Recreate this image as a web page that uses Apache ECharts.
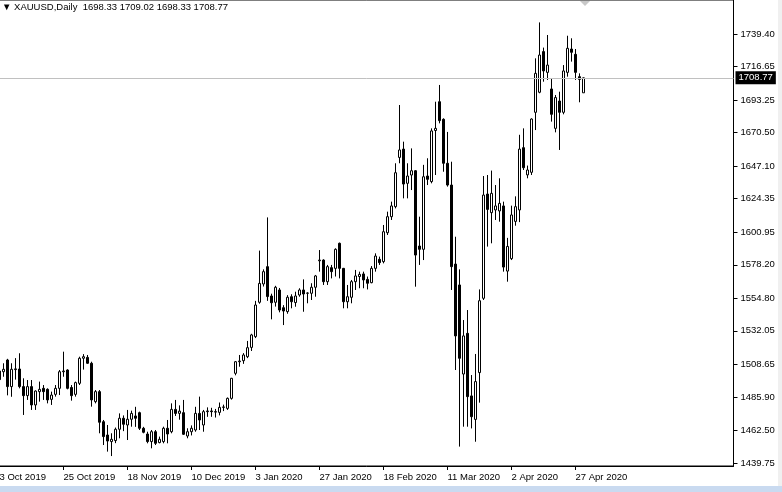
<!DOCTYPE html>
<html>
<head>
<meta charset="utf-8">
<script src="https://cdn.jsdelivr.net/npm/echarts@6/dist/echarts.min.js"></script>
<style>
html,body{margin:0;padding:0;background:#fff;}
#chart{width:782px;height:492px;}
</style>
</head>
<body>
<div id="chart"></div>
<script>
// ---- data ----
const symbolName = 'XAUUSD,Daily';
const dates = [
'2019-10-03','2019-10-04','2019-10-07','2019-10-08','2019-10-09','2019-10-10','2019-10-11','2019-10-14','2019-10-15','2019-10-16',
'2019-10-17','2019-10-18','2019-10-21','2019-10-22','2019-10-23','2019-10-24','2019-10-25','2019-10-28','2019-10-29','2019-10-30',
'2019-10-31','2019-11-01','2019-11-04','2019-11-05','2019-11-06','2019-11-07','2019-11-08','2019-11-11','2019-11-12','2019-11-13',
'2019-11-14','2019-11-15','2019-11-18','2019-11-19','2019-11-20','2019-11-21','2019-11-22','2019-11-25','2019-11-26','2019-11-27',
'2019-11-28','2019-11-29','2019-12-02','2019-12-03','2019-12-04','2019-12-05','2019-12-06','2019-12-09','2019-12-10','2019-12-11',
'2019-12-12','2019-12-13','2019-12-16','2019-12-17','2019-12-18','2019-12-19','2019-12-20','2019-12-23','2019-12-24','2019-12-26',
'2019-12-27','2019-12-30','2019-12-31','2020-01-02','2020-01-03','2020-01-06','2020-01-07','2020-01-08','2020-01-09','2020-01-10',
'2020-01-13','2020-01-14','2020-01-15','2020-01-16','2020-01-17','2020-01-20','2020-01-21','2020-01-22','2020-01-23','2020-01-24',
'2020-01-27','2020-01-28','2020-01-29','2020-01-30','2020-01-31','2020-02-03','2020-02-04','2020-02-05','2020-02-06','2020-02-07',
'2020-02-10','2020-02-11','2020-02-12','2020-02-13','2020-02-14','2020-02-17','2020-02-18','2020-02-19','2020-02-20','2020-02-21',
'2020-02-24','2020-02-25','2020-02-26','2020-02-27','2020-02-28','2020-03-02','2020-03-03','2020-03-04','2020-03-05','2020-03-06',
'2020-03-09','2020-03-10','2020-03-11','2020-03-12','2020-03-13','2020-03-16','2020-03-17','2020-03-18','2020-03-19','2020-03-20',
'2020-03-23','2020-03-24','2020-03-25','2020-03-26','2020-03-27','2020-03-30','2020-03-31','2020-04-01','2020-04-02','2020-04-03',
'2020-04-06','2020-04-07','2020-04-08','2020-04-09','2020-04-13','2020-04-14','2020-04-15','2020-04-16','2020-04-17','2020-04-20',
'2020-04-21','2020-04-22','2020-04-23','2020-04-24','2020-04-27','2020-04-28','2020-04-29'
];
const openP = [
1504.0,1503.5,1511.7,1493.1,1505.0,1505.4,1493.1,1486.8,1493.1,1480.3,
1489.6,1491.9,1491.2,1484.2,1487.7,1491.9,1503.5,1504.7,1492.5,1487.7,
1495.4,1512.9,1513.5,1509.4,1482.6,1489.6,1468.6,1459.3,1454.7,1455.4,
1463.3,1471.0,1466.3,1470.3,1472.6,1474.9,1464.0,1460.0,1454.7,1461.6,
1454.0,1454.7,1464.0,1461.6,1477.2,1474.4,1474.9,1458.6,1461.6,1462.8,
1474.4,1466.3,1475.6,1476.1,1475.6,1475.1,1478.6,1477.9,1484.9,1502.4,
1510.5,1511.2,1514.0,1520.5,1528.0,1552.0,1564.8,1576.9,1556.4,1552.0,
1560.6,1548.2,1545.5,1555.9,1551.8,1557.1,1560.6,1558.3,1558.3,1562.5,
1581.0,1581.5,1566.4,1576.2,1575.7,1593.2,1575.7,1552.4,1555.5,1566.4,
1570.0,1571.8,1568.0,1565.7,1575.7,1582.0,1580.4,1600.6,1611.8,1618.8,
1653.2,1659.0,1635.1,1640.9,1643.9,1591.3,1589.0,1640.2,1636.3,1672.0,
1692.1,1679.8,1649.1,1633.9,1578.7,1564.1,1501.9,1530.3,1486.6,1470.2,
1502.9,1554.8,1627.6,1614.6,1616.5,1615.8,1619.3,1573.8,1582.5,1608.5,
1616.5,1660.0,1641.0,1642.8,1684.7,1698.7,1727.1,1712.6,1701.0,1673.5,
1692.6,1684.7,1712.6,1728.9,1725.2,1709.6,1698.33
];
const highP = [
1513.0,1509.4,1512.5,1509.4,1513.0,1516.4,1498.9,1497.7,1497.7,1490.5,
1496.6,1494.2,1491.9,1489.6,1494.2,1504.7,1517.5,1505.2,1494.2,1496.6,
1514.0,1515.8,1515.2,1510.5,1490.7,1490.7,1469.8,1466.3,1460.5,1464.5,
1474.4,1473.0,1476.8,1476.3,1479.0,1475.6,1465.0,1461.6,1462.8,1462.8,
1458.2,1465.1,1469.8,1481.4,1483.8,1480.0,1483.8,1464.0,1466.0,1479.0,
1486.1,1476.8,1478.6,1478.3,1477.5,1482.0,1480.5,1485.5,1499.2,1511.0,
1515.2,1516.5,1525.0,1530.0,1553.0,1588.1,1575.0,1611.3,1558.0,1563.5,
1562.0,1550.0,1557.0,1557.6,1559.4,1561.8,1568.0,1559.0,1565.3,1571.1,
1588.5,1582.0,1578.1,1578.1,1589.7,1593.7,1576.0,1564.1,1567.6,1574.6,
1573.4,1573.4,1570.0,1577.3,1586.2,1583.9,1606.0,1615.3,1622.3,1649.1,
1689.8,1664.2,1649.1,1659.5,1644.4,1611.8,1648.0,1652.6,1673.5,1692.1,
1703.8,1680.5,1671.0,1650.2,1597.8,1575.0,1539.6,1546.6,1501.2,1515.9,
1561.0,1640.2,1640.9,1644.0,1633.9,1638.6,1622.3,1597.0,1619.5,1626.0,
1669.0,1673.5,1647.5,1680.5,1722.4,1747.5,1729.9,1738.7,1708.4,1696.8,
1699.1,1717.7,1738.2,1736.4,1728.9,1711.9,1709.02
];
const lowP = [
1495.0,1500.0,1487.0,1486.0,1498.0,1491.9,1473.3,1483.8,1476.8,1476.8,
1482.6,1483.8,1481.4,1480.3,1486.1,1487.2,1500.0,1491.2,1483.3,1486.1,
1494.2,1505.0,1509.0,1479.1,1481.4,1460.5,1452.3,1447.7,1444.6,1453.6,
1457.0,1462.0,1455.8,1465.1,1465.0,1462.8,1460.5,1453.5,1450.0,1452.3,
1453.5,1453.5,1453.5,1460.5,1472.6,1470.0,1459.3,1457.0,1459.0,1461.6,
1462.8,1461.6,1472.0,1472.0,1471.5,1473.0,1476.0,1476.8,1484.0,1501.0,
1507.0,1509.0,1513.0,1518.0,1527.0,1551.0,1563.0,1553.0,1540.1,1549.0,
1545.0,1536.1,1544.0,1547.8,1548.9,1555.9,1545.4,1551.3,1553.6,1555.9,
1573.4,1564.1,1564.1,1568.7,1570.0,1568.7,1547.8,1547.8,1551.3,1560.6,
1561.8,1561.8,1561.0,1565.3,1573.4,1578.1,1579.2,1599.0,1609.5,1617.6,
1649.1,1624.6,1624.6,1630.4,1562.9,1578.1,1581.5,1633.9,1635.1,1640.9,
1677.0,1643.2,1632.8,1560.6,1504.7,1451.2,1465.1,1465.1,1463.9,1454.6,
1481.9,1553.6,1590.9,1593.2,1609.5,1608.3,1573.4,1566.4,1581.5,1605.5,
1608.0,1644.4,1638.6,1640.9,1672.3,1698.0,1706.1,1707.3,1678.2,1670.7,
1658.4,1683.3,1709.6,1720.1,1707.3,1691.7,1698.33
];
const closeP = [
1498.0,1505.2,1493.1,1505.2,1505.5,1493.1,1486.8,1493.1,1480.3,1490.0,
1491.2,1489.6,1483.8,1487.2,1491.9,1503.5,1504.0,1491.9,1486.8,1495.9,
1512.9,1514.0,1509.4,1483.8,1489.6,1468.2,1458.2,1455.1,1456.3,1463.3,
1471.0,1466.8,1470.3,1474.4,1471.0,1464.0,1461.2,1454.7,1461.6,1453.5,
1456.3,1464.0,1460.0,1477.2,1474.4,1476.0,1459.8,1461.6,1464.0,1474.4,
1469.8,1475.6,1476.1,1475.6,1475.3,1478.6,1478.9,1484.9,1498.9,1510.5,
1511.0,1515.2,1520.3,1529.2,1550.1,1565.2,1573.4,1556.0,1551.7,1562.5,
1546.6,1545.9,1555.5,1552.4,1556.4,1560.6,1557.8,1558.5,1562.5,1570.4,
1581.5,1566.4,1576.9,1573.4,1589.0,1575.7,1552.4,1555.9,1566.4,1570.4,
1571.5,1567.6,1565.3,1575.7,1584.3,1579.7,1601.3,1611.8,1619.3,1642.5,
1658.4,1634.6,1640.2,1643.9,1585.0,1589.0,1639.7,1637.9,1671.7,1673.5,
1678.9,1649.1,1633.9,1576.9,1528.5,1512.9,1528.5,1486.1,1472.1,1496.6,
1553.1,1626.9,1616.9,1628.1,1619.3,1621.1,1576.6,1591.0,1613.0,1618.8,
1659.0,1646.0,1644.4,1680.0,1711.9,1724.7,1713.6,1717.7,1683.3,1695.0,
1684.7,1713.6,1729.4,1726.6,1712.6,1707.7,1708.77
];
const priceTicks = [1739.40,1716.65,1693.25,1670.50,1647.10,1624.35,1600.95,1578.20,1554.80,1532.05,1508.65,1485.90,1462.50,1439.75];
const lastPrice = 1708.77;
const labelEvery = 16;

// ---- build ----
const MONTHS = ['Jan','Feb','Mar','Apr','May','Jun','Jul','Aug','Sep','Oct','Nov','Dec'];
function fmtDate(s){
  if(!s || s.indexOf('-')<0) return '';
  const p = s.split('-');
  return (+p[2]) + ' ' + MONTHS[+p[1]-1] + ' ' + p[0];
}
const totalSlots = 184; // chart shift: empty space right of the last bar
const cats = dates.slice();
for (let k = 0; cats.length < totalSlots; k++) cats.push('pad' + k);
const ohlc = dates.map((d,i)=>[openP[i], closeP[i], lowP[i], highP[i]]);
const n = dates.length;
const last = n - 1;
const titleText = '\u25BC ' + symbolName + '  ' + [openP[last], highP[last], lowP[last], closeP[last]].map(v=>v.toFixed(2)).join(' ');
const showIdx = (i)=> i < n && i % labelEvery === 0;
const FONT = 'Liberation Sans, Arial, sans-serif';

const chart = echarts.init(document.getElementById('chart'), null, {renderer:'canvas', width:782, height:492});
chart.setOption({
  animation:false,
  backgroundColor:'#ffffff',
  title:{text:titleText, left:2, top:2, padding:0,
    textStyle:{fontSize:9.5, fontWeight:'normal', color:'#000', fontFamily:FONT}},
  grid:{left:-2.5, width:736, top:0, bottom:26, show:true, borderColor:'#000', borderWidth:1,
        backgroundColor:'transparent', containLabel:false, outerBoundsMode:'none'},
  xAxis:{type:'category', data:cats, boundaryGap:true,
    axisLine:{show:true, lineStyle:{color:'#000', width:1}},
    axisTick:{show:true, alignWithLabel:true, interval:(i)=>showIdx(i), length:4, lineStyle:{color:'#000'}},
    axisLabel:{show:true, interval:(i)=>showIdx(i), formatter:(v)=>fmtDate(v), align:'left',
      margin:6, color:'#000', fontSize:9.5, fontFamily:FONT, padding:0},
    splitLine:{show:false}},
  yAxis:{type:'value', position:'right', min:1437.65, max:1763.15, scale:true,
    axisLine:{show:true, lineStyle:{color:'#000', width:1}},
    axisTick:{show:true, length:4, customValues:priceTicks, lineStyle:{color:'#000'}},
    axisLabel:{show:true, customValues:priceTicks, formatter:(v)=>v.toFixed(2), margin:7,
      color:'#000', fontSize:9.5, fontFamily:FONT},
    splitLine:{show:false}},
  series:[{
    type:'candlestick',
    data:ohlc,
    barWidth:2,
    itemStyle:{color:'#ffffff', color0:'#000000', borderColor:'#000000', borderColor0:'#000000', borderWidth:1},
    markLine:{silent:true, symbol:['none','none'], animation:false,
      lineStyle:{color:'#c0c0c0', type:'solid', width:1},
      label:{show:true, position:'end', distance:2, formatter:lastPrice.toFixed(2),
        backgroundColor:'#000', color:'#fff', padding:[2,3,1,3], fontSize:9.5, fontFamily:FONT},
      data:[{yAxis:lastPrice}]}
  }],
  graphic:[
    {type:'polygon', shape:{points:[[580,1],[590,1],[585,6]]}, style:{fill:'#c8c8c8'}, silent:true},
    {type:'rect', shape:{x:0, y:486, width:782, height:6}, style:{fill:'#c9daf0'}, silent:true},
    {type:'rect', shape:{x:778, y:0, width:4, height:486}, style:{fill:'#f0f0f0'}, silent:true}
  ]
});
</script>
</body>
</html>
